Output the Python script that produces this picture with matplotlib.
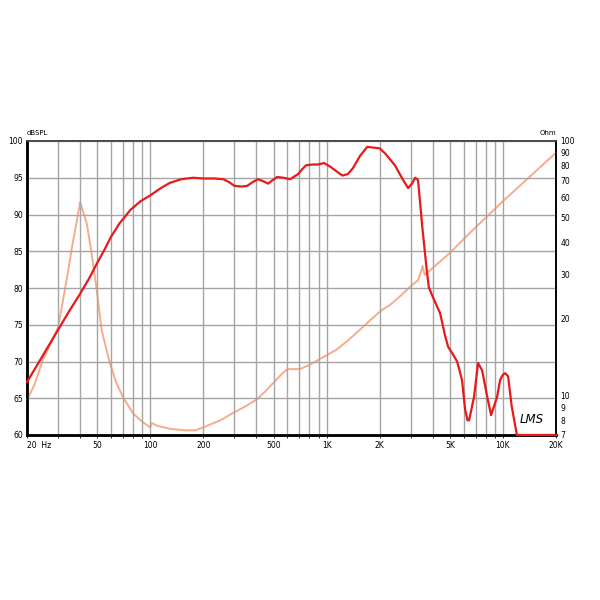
import numpy as np
import matplotlib.pyplot as plt

# SPL response (dB)
spl_freq = [20, 25, 30, 35, 40, 45, 50, 55, 60, 67, 77, 88, 100, 115, 129, 150,
            175, 200, 230, 260, 280, 300, 330, 355, 380, 408, 440, 465, 490, 524,
            570, 621, 689, 730, 765, 830, 895, 968, 1050, 1150, 1230, 1320, 1410,
            1550, 1700, 1850, 2000, 2150, 2290, 2440, 2700, 2900, 3050, 3180, 3300,
            3500, 3700, 3800, 4000, 4400, 4700, 4890, 5200, 5500, 5860, 6100, 6300,
            6430, 6860, 7230, 7620, 8100, 8570, 9270, 9640, 10000, 10300, 10700,
            11200, 12000, 20000]
spl_db = [67.2, 71.1, 74.3, 77.0, 79.2, 81.3, 83.4, 85.2, 87.0, 88.8, 90.6, 91.8,
          92.6, 93.6, 94.3, 94.8, 95.0, 94.9, 94.9, 94.8, 94.4, 93.9, 93.8, 93.9,
          94.4, 94.8, 94.5, 94.2, 94.6, 95.1, 95.0, 94.8, 95.5, 96.2, 96.7, 96.8,
          96.8, 97.0, 96.5, 95.8, 95.3, 95.5, 96.3, 98.0, 99.2, 99.1, 99.0, 98.3,
          97.5, 96.7, 94.8, 93.6, 94.2, 95.0, 94.7, 88.0, 82.4, 80.1, 78.8, 76.6,
          73.5, 72.0, 71.0, 70.0, 67.5, 63.5, 62.0, 62.0, 65.2, 69.8, 68.8, 65.5,
          62.7, 65.2, 67.5, 68.2, 68.4, 68.0, 64.0, 60.0, 60.0]

# impedance (Ohm)
imp_freq = [20, 22, 24.6, 27, 30, 32, 34, 36, 38, 40, 41.5, 43.6, 46, 49.7, 53,
            59, 64, 70, 80, 90, 100, 102, 110, 130, 160, 180, 200, 250, 300, 350,
            405, 450, 504, 560, 600, 706, 800, 895, 1000, 1130, 1300, 1540, 1800,
            2060, 2290, 2600, 2970, 3300, 3450, 3500, 3600, 3870, 5000, 6500,
            10000, 20000]
imp_ohm = [9.6, 11.0, 13.8, 15.8, 18.5, 23.7, 30.0, 38.3, 47.0, 57.6, 53.0, 47.6,
           38.0, 26.0, 18.1, 13.4, 11.3, 9.86, 8.5, 7.9, 7.5, 7.8, 7.6, 7.4, 7.3,
           7.3, 7.5, 8.0, 8.6, 9.1, 9.7, 10.4, 11.3, 12.2, 12.7, 12.7, 13.2, 13.8,
           14.4, 15.1, 16.3, 18.1, 20.0, 21.7, 22.7, 24.5, 26.7, 28.4, 31.0, 32.3,
           29.8, 31.1, 36.3, 43.6, 58.0, 90.0]

x_ticks = [20, 50, 100, 200, 500, 1000, 2000, 5000, 10000, 20000]
x_labels = ['20  Hz', '50', '100', '200', '500', '1K', '2K', '5K', '10K', '20K']
grid_freqs = [20, 30, 40, 50, 60, 70, 80, 90, 100, 200, 300, 400, 500, 600, 700,
              800, 900, 1000, 2000, 3000, 4000, 5000, 6000, 7000, 8000, 9000,
              10000, 20000]
db_ticks = [60, 65, 70, 75, 80, 85, 90, 95, 100]
ohm_ticks = [7, 8, 9, 10, 20, 30, 40, 50, 60, 70, 80, 90, 100]

RED = '#e8191b'
ORANGE = '#f8ab8c'

fig = plt.figure(figsize=(6, 6), dpi=100)
ax = fig.add_axes([27 / 600, 1 - 435 / 600, 529 / 600, 294 / 600])

ax.set_xscale('log')
ax.set_xlim(20, 20000)
ax.set_ylim(60, 100)

for f in grid_freqs:
    ax.axvline(f, color='#a5a5a5', lw=1.0, zorder=1)
for d in db_ticks:
    ax.axhline(d, color='#a5a5a5', lw=1.0, zorder=1)

ax.set_xticks(x_ticks)
ax.set_xticklabels(x_labels)
ax.set_xticks(grid_freqs, minor=True)
ax.xaxis.set_minor_formatter(plt.NullFormatter())
ax.tick_params(axis='x', which='both', length=2, width=0.6, labelsize=5.5, pad=2)
ax.get_xticklabels()[0].set_horizontalalignment('left')

ax.set_yticks(db_ticks)
ax.set_yticklabels([str(d) for d in db_ticks])
ax.tick_params(axis='y', length=0, labelsize=5.5, pad=3)

ax2 = ax.twinx()
ax2.set_yscale('log')
ax2.set_ylim(7, 100)
ax2.set_yticks(ohm_ticks)
ax2.set_yticklabels([str(o) for o in ohm_ticks])
ax2.yaxis.set_minor_locator(plt.NullLocator())
ax2.tick_params(axis='y', length=0, labelsize=5.5, pad=3)

ax2.plot(imp_freq, imp_ohm, color=ORANGE, lw=1.4, zorder=3, clip_on=False)
ax.set_zorder(ax2.get_zorder() + 1)
ax.patch.set_visible(False)
ax.plot(spl_freq, spl_db, color=RED, lw=1.6, zorder=4, clip_on=False)

for a in (ax, ax2):
    a.spines['left'].set_linewidth(1.8)
    a.spines['bottom'].set_linewidth(1.8)
    a.spines['right'].set_linewidth(1.2)
    a.spines['top'].set_linewidth(1.2)
    a.spines['top'].set_color('#444444')

fig.text(27 / 600, 1 - 136 / 600, 'dBSPL', fontsize=5, ha='left', va='bottom')
fig.text(556 / 600, 1 - 136 / 600, 'Ohm', fontsize=5, ha='right', va='bottom')
ax.text(0.955, 0.03, 'LMS', transform=ax.transAxes, fontsize=8.5, style='italic',
        ha='center', va='bottom', zorder=5)

fig.savefig('out.png', dpi=100, facecolor='white')
